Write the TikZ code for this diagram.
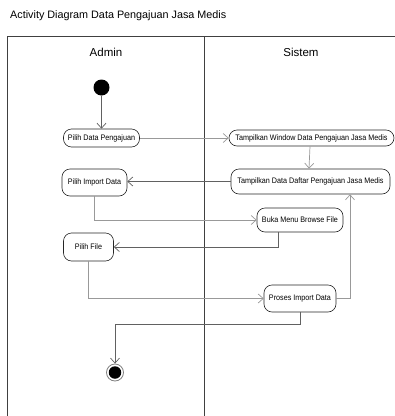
\documentclass[tikz,border=0pt]{standalone}
\usepackage{fontspec}
\setmainfont{Liberation Sans}
\newfontfamily\nodefont[FakeStretch=0.9]{Liberation Sans}
\usetikzlibrary{arrows.meta}
\begin{document}
\begin{tikzpicture}[x=1pt,y=-1pt,
  lane/.style={draw=black!75, line width=0.8pt},
  hdr/.style={font=\fontsize{11.5}{13}\selectfont, inner sep=0pt},
  act/.style={draw=black!85, line width=0.6pt, rounded corners=8pt, inner sep=0pt, align=center,
    font=\nodefont\fontsize{8}{9}\selectfont},
  flow/.style={draw=black!40, line width=0.7pt, -{Straight Barb[length=5pt,width=9pt]}},
  flowd/.style={flow, draw=black!62},
]
\useasboundingbox (0,0) rectangle (395,416);
\node[anchor=west, inner sep=0pt, font=\fontsize{10.8}{12}\selectfont] (title) at (10,16) {Activity Diagram Data Pengajuan Jasa Medis};
\draw[lane] (7,416) -- (7,36) -- (395,36);
\draw[lane] (204,36) -- (204,416);
\node[hdr] (hA) at (106,52) {Admin};
\node[hdr] (hS) at (301,52) {Sistem};

\node[circle, fill=black, minimum size=16pt, inner sep=0pt] (start) at (101.5,87.5) {};
\node[act, minimum width=76pt, minimum height=18pt] (pdp) at (101.5,138) {Pilih Data Pengajuan};
\node[act, minimum width=165pt, minimum height=16pt] (tw) at (311.5,138) {Tampilkan Window Data Pengajuan Jasa Medis};
\node[act, minimum width=159pt, minimum height=25pt] (tdd) at (310.5,181.5) {Tampilkan Data Daftar Pengajuan Jasa Medis};
\node[act, minimum width=65pt, minimum height=27pt] (pid) at (94.5,182.5) {Pilih Import Data};
\node[act, minimum width=86pt, minimum height=24pt] (bmb) at (300,220) {Buka Menu Browse File};
\node[act, minimum width=50pt, minimum height=28pt] (pf) at (88.5,247) {Pilih File};
\node[act, minimum width=72pt, minimum height=27pt] (pri) at (300,298.5) {Proses Import Data};
\node[circle, draw=black!50, fill=white, line width=0.8pt, minimum size=17pt, inner sep=0pt] (end) at (115,372.5) {};
\node[circle, fill=black, minimum size=12.5pt, inner sep=0pt] (endin) at (end.center) {};

\draw[flowd] (start) -- (pdp);
\draw[flow] (pdp) -- (tw);
\draw[flow] ([xshift=-1.5pt]tw.south) -- ([xshift=-1.5pt]tdd.north);
\draw[flowd] (tdd.west) -- (pid.east |- tdd.west);
\draw[flow] (pid.south) |- (bmb.west);
\draw[flowd] ([xshift=-22pt]bmb.south) |- (pf.east);
\draw[flow] (pf.south) |- (pri.west);
\draw[flow] (pri.east) -| ([xshift=39.5pt]tdd.south);
\draw[flowd] (pri.south) -- ++(0,12.5) -| (end.north);
\end{tikzpicture}
\end{document}
